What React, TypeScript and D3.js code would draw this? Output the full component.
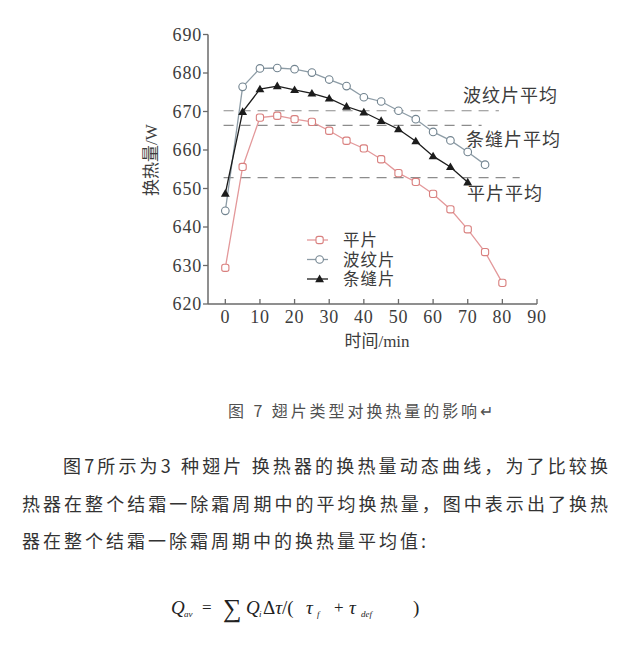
import React from "react";
import * as d3 from "d3";

// Heat transfer over one frosting cycle, sampled every 5 min
const TIME_WAVY = [0, 5, 10, 15, 20, 25, 30, 35, 40, 45, 50, 55, 60, 65, 70, 75];
const WAVY = [644.2, 676.4, 681.2, 681.3, 681.0, 680.1, 678.3, 676.6, 673.7, 672.6, 670.2, 668.0, 664.7, 662.5, 659.5, 656.2];
const TIME_SLIT = [0, 5, 10, 15, 20, 25, 30, 35, 40, 45, 50, 55, 60, 65, 70];
const SLIT = [648.7, 669.9, 675.8, 676.6, 675.6, 674.7, 673.4, 671.3, 669.8, 667.6, 665.4, 662.3, 658.4, 655.6, 651.6];
const TIME_FLAT = [0, 5, 10, 15, 20, 25, 30, 35, 40, 45, 50, 55, 60, 65, 70, 75, 80];
const FLAT = [629.4, 655.6, 668.4, 668.9, 668.0, 667.3, 665.0, 662.4, 660.4, 657.6, 654.0, 651.7, 648.6, 644.6, 639.4, 633.5, 625.5];

// Cycle averages (dashed reference lines)
const AVG_NAMES = ["波纹片平均", "条缝片平均", "平片平均"];
const AVG_VALUES = [670.2, 666.4, 652.8];
const AVG_START = [-0.5, -0.5, -0.5];
const AVG_END = [79, 74, 85];

const X_TICKS = [0, 10, 20, 30, 40, 50, 60, 70, 80, 90];
const Y_TICKS = [620, 630, 640, 650, 660, 670, 680, 690];
const LEGEND = ["平片", "波纹片", "条缝片"];

const PARAGRAPH = [
  "图7所示为3 种翅片 换热器的换热量动态曲线，为了比较换",
  "热器在整个结霜一除霜周期中的平均换热量，图中表示出了换热",
  "器在整个结霜一除霜周期中的换热量平均值:",
];

const SERIF = "'Liberation Serif', 'DejaVu Serif', serif";
const CJK = "'Noto Sans CJK SC', 'Noto Sans', sans-serif";
const SERIF_CJK = "'Liberation Serif', 'Noto Sans CJK SC', serif";

const FLAT_COLOR = "#e3989a";
const FLAT_MARK = "#d9807f";
const WAVY_COLOR = "#8d9ca6";
const WAVY_MARK = "#71838f";
const SLIT_COLOR = "#1c1c1c";
const AXIS = "#6a6a6a";
const LABEL = "#3c3c3c";

export default function App() {
  const x = d3.scaleLinear().domain([-5, 90]).range([208, 537]);
  const y = d3.scaleLinear().domain([620, 690]).range([304, 34.5]);

  const line = (ts: number[], vs: number[]) =>
    d3.line<number>().x((_, i) => x(ts[i])).y((v) => y(v))(vs) || "";

  const triangle = d3.symbol().type(d3.symbolTriangle).size(34)() || "";

  const square = (cx: number, cy: number, color: string, key: any) => (
    <rect key={key} x={cx - 3.6} y={cy - 3.6} width={7.2} height={7.2} rx={2.2}
      fill="#fff" stroke={color} strokeWidth={1.1} />
  );
  const circle = (cx: number, cy: number, color: string, key: any) => (
    <circle key={key} cx={cx} cy={cy} r={3.8} fill="#fff" stroke={color} strokeWidth={1.1} />
  );
  const tri = (cx: number, cy: number, key: any) => (
    <path key={key} d={triangle} transform={`translate(${cx},${cy + 0.6})`} fill={SLIT_COLOR} />
  );

  const y0 = y(620);
  const legendX = d3.scaleLinear().domain([0, 1]).range([307, 328]);
  const legendY = d3.scalePoint<string>().domain(LEGEND).range([240, 279]);

  return (
    <svg width={632} height={654} viewBox="0 0 632 654"
      style={{ position: "absolute", left: 0, top: 0, background: "#fff" }}>
      <rect width={632} height={654} fill="#fff" />

      {/* average reference lines */}
      {AVG_VALUES.map((v, i) => (
        <line key={"avg" + i} x1={x(AVG_START[i])} x2={x(AVG_END[i])} y1={y(v)} y2={y(v)}
          stroke="#8c8c8c" strokeWidth={1.2} strokeDasharray="10 7" />
      ))}

      {/* axes */}
      <line x1={x(-5)} x2={x(-5)} y1={y(620)} y2={y(690)} stroke={AXIS} strokeWidth={1.5} />
      <line x1={x(-5)} x2={x(90)} y1={y0} y2={y0} stroke={AXIS} strokeWidth={1.5} />
      {Y_TICKS.map((t) => (
        <g key={"yt" + t}>
          <line x1={x(-5) - 5} x2={x(-5)} y1={y(t)} y2={y(t)} stroke={AXIS} strokeWidth={1.3} />
          <text x={x(-5) - 6} y={y(t)} dy="0.35em" textAnchor="end" fontFamily={SERIF}
            fontSize={18} letterSpacing={0.8} fill={LABEL}>{t}</text>
        </g>
      ))}
      {X_TICKS.map((t) => (
        <g key={"xt" + t}>
          <line x1={x(t)} x2={x(t)} y1={y0} y2={y0 - 5} stroke={AXIS} strokeWidth={1.3} />
          <text x={x(t)} y={y0 + 19} textAnchor="middle" fontFamily={SERIF}
            fontSize={18} letterSpacing={0.8} fill={LABEL}>{t}</text>
        </g>
      ))}
      <text x={377} y={347} textAnchor="middle" fontSize={17} fill={LABEL}>
        <tspan fontFamily={CJK}>时间</tspan>
        <tspan fontFamily={SERIF}>/min</tspan>
      </text>
      <text transform="translate(157,160) rotate(-90)" textAnchor="middle" fontSize={17} fill={LABEL}>
        <tspan fontFamily={CJK}>换热量</tspan>
        <tspan fontFamily={SERIF}>/W</tspan>
      </text>

      {/* series lines */}
      <path d={line(TIME_FLAT, FLAT)} fill="none" stroke={FLAT_COLOR} strokeWidth={1.3} />
      <path d={line(TIME_WAVY, WAVY)} fill="none" stroke={WAVY_COLOR} strokeWidth={1.3} />
      <path d={line(TIME_SLIT, SLIT)} fill="none" stroke={SLIT_COLOR} strokeWidth={1.3} />

      {/* markers */}
      {FLAT.map((v, i) => square(x(TIME_FLAT[i]), y(v), FLAT_MARK, "f" + i))}
      {WAVY.map((v, i) => circle(x(TIME_WAVY[i]), y(v), WAVY_MARK, "w" + i))}
      {SLIT.map((v, i) => tri(x(TIME_SLIT[i]), y(v), "s" + i))}

      {/* average labels */}
      <text x={463} y={96} dy="0.35em" fontFamily={CJK} fontSize={18} fill={LABEL} letterSpacing={1}>{AVG_NAMES[0]}</text>
      <text x={466} y={140} dy="0.35em" fontFamily={CJK} fontSize={18} fill={LABEL} letterSpacing={1}>{AVG_NAMES[1]}</text>
      <text x={467} y={194} dy="0.35em" fontFamily={CJK} fontSize={18} fill={LABEL} letterSpacing={1}>{AVG_NAMES[2]}</text>

      {/* legend */}
      {LEGEND.map((name, i) => {
        const ly = legendY(name) as number;
        const color = i === 0 ? FLAT_COLOR : i === 1 ? WAVY_COLOR : SLIT_COLOR;
        const mx = legendX(0.6);
        return (
          <g key={"lg" + i}>
            <line x1={legendX(0)} x2={legendX(1)} y1={ly} y2={ly} stroke={color} strokeWidth={1.3} />
            {i === 0 ? square(mx, ly, FLAT_MARK, "lm") : i === 1 ? circle(mx, ly, WAVY_MARK, "lm") : tri(mx, ly, "lm")}
            <text x={343} y={ly} dy="0.38em" fontFamily={SERIF_CJK} fontSize={16.5} letterSpacing={1} fill={LABEL}>{name}</text>
          </g>
        );
      })}

      {/* caption */}
      <text x={228} y={417} fontFamily={CJK} fontSize={16} fill="#505050" textLength={265} lengthAdjust="spacing">
        图 7  翅片类型对换热量的影响↵
      </text>

      {/* body text */}
      <text x={63} y={473} fontFamily={CJK} fontSize={18} fill="#333" textLength={545} lengthAdjust="spacing">{PARAGRAPH[0]}</text>
      <text x={22} y={511} fontFamily={CJK} fontSize={18} fill="#333" textLength={586} lengthAdjust="spacing">{PARAGRAPH[1]}</text>
      <text x={22} y={548} fontFamily={CJK} fontSize={18} fill="#333" textLength={404} lengthAdjust="spacing">{PARAGRAPH[2]}</text>

      {/* formula */}
      <g fontFamily={SERIF} fill="#222">
        <text x={171} y={614} fontSize={19} fontStyle="italic">Q</text>
        <text x={184} y={617} fontSize={9} fontStyle="italic">av</text>
        <text x={202} y={613} fontSize={17}>=</text>
        <text x={223} y={617} fontSize={26}>∑</text>
        <text x={246} y={614} fontSize={19} fontStyle="italic">Q</text>
        <text x={259} y={617} fontSize={9} fontStyle="italic">i</text>
        <text x={263} y={614} fontSize={19}>Δ<tspan fontStyle="italic">τ</tspan>/(</text>
        <text x={306} y={614} fontSize={19} fontStyle="italic">τ</text>
        <text x={317} y={617} fontSize={9} fontStyle="italic">f</text>
        <text x={334} y={613} fontSize={17}>+</text>
        <text x={349} y={614} fontSize={19} fontStyle="italic">τ</text>
        <text x={361} y={617} fontSize={9} fontStyle="italic">def</text>
        <text x={413} y={614} fontSize={19}>)</text>
      </g>
    </svg>
  );
}
